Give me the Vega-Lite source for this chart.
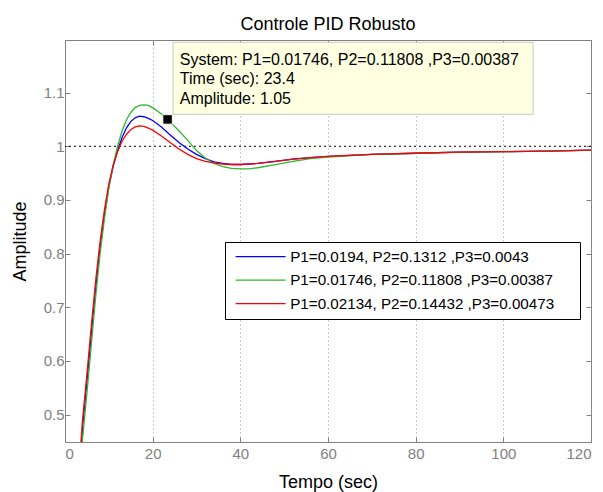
{
  "$schema": "https://vega.github.io/schema/vega-lite/v6.json",
  "width": 526,
  "height": 402,
  "autosize": "none",
  "padding": {"left": 65, "top": 40, "right": 12, "bottom": 50},
  "background": "white",
  "title": {"text": "Controle PID Robusto", "fontSize": 18, "fontWeight": "normal", "font": "Liberation Sans", "color": "black", "offset": -8, "baseline": "alphabetic"},
  "config": {
    "font": "Liberation Sans",
    "view": {"stroke": "#808080", "strokeWidth": 1},
    "axis": {
      "domain": false,
      "grid": true,
      "gridColor": "#999999",
      "gridDash": [1, 3],
      "gridWidth": 1,
      "gridOpacity": 1,
      "tickColor": "#808080",
      "tickSize": -5,
      "labelColor": "#808080",
      "labelFontSize": 15,
      "labelFont": "Liberation Sans",
      "titleFont": "Liberation Sans",
      "titleFontSize": 18,
      "titleFontWeight": "normal",
      "titleColor": "black"
    }
  },
  "datasets": {
    "curves": [
      {"s":"b","t":0,"y":0},{"s":"b","t":1,"y":0.12},{"s":"b","t":2,"y":0.23},{"s":"b","t":3,"y":0.36},{"s":"b","t":4,"y":0.475},{"s":"b","t":5,"y":0.56},{"s":"b","t":6,"y":0.65},{"s":"b","t":7,"y":0.735},{"s":"b","t":8,"y":0.81},{"s":"b","t":9,"y":0.872},{"s":"b","t":10,"y":0.925},{"s":"b","t":11,"y":0.963},{"s":"b","t":12,"y":0.992},{"s":"b","t":13,"y":1.016},{"s":"b","t":14,"y":1.034},{"s":"b","t":15,"y":1.046},{"s":"b","t":16,"y":1.053},{"s":"b","t":17,"y":1.056},{"s":"b","t":18,"y":1.055},{"s":"b","t":19,"y":1.052},{"s":"b","t":20,"y":1.048},{"s":"b","t":22,"y":1.036},{"s":"b","t":24,"y":1.021},{"s":"b","t":26,"y":1.007},{"s":"b","t":28,"y":0.995},{"s":"b","t":30,"y":0.985},{"s":"b","t":32,"y":0.977},{"s":"b","t":34,"y":0.971},{"s":"b","t":36,"y":0.968},{"s":"b","t":38,"y":0.966},{"s":"b","t":40,"y":0.966},{"s":"b","t":44,"y":0.968},{"s":"b","t":48,"y":0.972},{"s":"b","t":52,"y":0.976},{"s":"b","t":56,"y":0.979},{"s":"b","t":60,"y":0.981},{"s":"b","t":70,"y":0.985},{"s":"b","t":80,"y":0.987},{"s":"b","t":90,"y":0.989},{"s":"b","t":100,"y":0.99},{"s":"b","t":110,"y":0.991},{"s":"b","t":120,"y":0.993},
      {"s":"g","t":0,"y":0},{"s":"g","t":1,"y":0.11},{"s":"g","t":2,"y":0.22},{"s":"g","t":3,"y":0.345},{"s":"g","t":4,"y":0.455},{"s":"g","t":5,"y":0.54},{"s":"g","t":6,"y":0.63},{"s":"g","t":7,"y":0.72},{"s":"g","t":8,"y":0.8},{"s":"g","t":9,"y":0.865},{"s":"g","t":10,"y":0.922},{"s":"g","t":11,"y":0.966},{"s":"g","t":12,"y":1.0},{"s":"g","t":13,"y":1.028},{"s":"g","t":14,"y":1.049},{"s":"g","t":15,"y":1.063},{"s":"g","t":16,"y":1.072},{"s":"g","t":17,"y":1.076},{"s":"g","t":18,"y":1.077},{"s":"g","t":19,"y":1.076},{"s":"g","t":20,"y":1.072},{"s":"g","t":21,"y":1.066},{"s":"g","t":22,"y":1.06},{"s":"g","t":23.4,"y":1.05},{"s":"g","t":24,"y":1.045},{"s":"g","t":26,"y":1.029},{"s":"g","t":28,"y":1.011},{"s":"g","t":30,"y":0.992},{"s":"g","t":32,"y":0.978},{"s":"g","t":34,"y":0.968},{"s":"g","t":36,"y":0.962},{"s":"g","t":38,"y":0.959},{"s":"g","t":40,"y":0.958},{"s":"g","t":42,"y":0.958},{"s":"g","t":44,"y":0.96},{"s":"g","t":48,"y":0.966},{"s":"g","t":52,"y":0.972},{"s":"g","t":56,"y":0.977},{"s":"g","t":60,"y":0.98},{"s":"g","t":70,"y":0.985},{"s":"g","t":80,"y":0.987},{"s":"g","t":90,"y":0.989},{"s":"g","t":100,"y":0.99},{"s":"g","t":110,"y":0.991},{"s":"g","t":120,"y":0.993},
      {"s":"r","t":0,"y":0},{"s":"r","t":1,"y":0.13},{"s":"r","t":2,"y":0.245},{"s":"r","t":3,"y":0.375},{"s":"r","t":4,"y":0.49},{"s":"r","t":5,"y":0.575},{"s":"r","t":6,"y":0.665},{"s":"r","t":7,"y":0.75},{"s":"r","t":8,"y":0.822},{"s":"r","t":9,"y":0.882},{"s":"r","t":10,"y":0.93},{"s":"r","t":11,"y":0.965},{"s":"r","t":12,"y":0.99},{"s":"r","t":13,"y":1.009},{"s":"r","t":14,"y":1.022},{"s":"r","t":15,"y":1.031},{"s":"r","t":16,"y":1.036},{"s":"r","t":17,"y":1.038},{"s":"r","t":18,"y":1.037},{"s":"r","t":19,"y":1.034},{"s":"r","t":20,"y":1.03},{"s":"r","t":22,"y":1.019},{"s":"r","t":24,"y":1.007},{"s":"r","t":26,"y":0.995},{"s":"r","t":28,"y":0.985},{"s":"r","t":30,"y":0.977},{"s":"r","t":32,"y":0.972},{"s":"r","t":34,"y":0.969},{"s":"r","t":36,"y":0.967},{"s":"r","t":38,"y":0.966},{"s":"r","t":40,"y":0.966},{"s":"r","t":44,"y":0.968},{"s":"r","t":48,"y":0.972},{"s":"r","t":52,"y":0.976},{"s":"r","t":56,"y":0.979},{"s":"r","t":60,"y":0.981},{"s":"r","t":70,"y":0.985},{"s":"r","t":80,"y":0.987},{"s":"r","t":90,"y":0.989},{"s":"r","t":100,"y":0.99},{"s":"r","t":110,"y":0.991},{"s":"r","t":120,"y":0.993}
    ],
    "tipbox": [{"x1": 24.64, "x2": 106.8, "y1": 1.0596, "y2": 1.1937}],
    "tiptext": [
      {"t": 26.2, "a": 1.1607, "txt": "System: P1=0.01746, P2=0.11808 ,P3=0.00387"},
      {"t": 26.2, "a": 1.1248, "txt": "Time (sec): 23.4"},
      {"t": 26.2, "a": 1.088, "txt": "Amplitude: 1.05"}
    ],
    "marker": [{"t": 23.4, "a": 1.05}],
    "ref": [{"a": 1}]
  },
  "resolve": {"axis": {"x": "independent", "y": "independent"}},
  "layer": [
    {
      "data": {"name": "ref"},
      "mark": {"type": "rule", "color": "black", "strokeDash": [2, 3], "strokeWidth": 1},
      "encoding": {
        "y": {"field": "a", "type": "quantitative", "scale": {"domain": [0.449, 1.198], "nice": false, "zero": false}, "axis": null}
      }
    },
    {
      "data": {"name": "curves"},
      "mark": {"type": "line", "clip": true, "strokeWidth": 1.3},
      "encoding": {
        "x": {"field": "t", "type": "quantitative", "scale": {"domain": [0, 120], "nice": false}, "axis": {"orient": "bottom", "values": [0, 20, 40, 60, 80, 100, 120], "title": "Tempo (sec)", "labelPadding": 9, "titlePadding": 12}},
        "y": {"field": "y", "type": "quantitative", "scale": {"domain": [0.449, 1.198], "nice": false, "zero": false}, "axis": {"orient": "left", "values": [0.5, 0.6, 0.7, 0.8, 0.9, 1, 1.1], "format": "~g", "title": "Amplitude", "labelPadding": 6, "titlePadding": 14}},
        "color": {
          "field": "s", "type": "nominal",
          "scale": {"domain": ["b", "g", "r"], "range": ["#0000ff", "#2eb82e", "#ff0000"]},
          "legend": {
            "orient": "none", "legendX": 160, "legendY": 202,
            "title": "\u00a0", "titleOrient": "right", "titlePadding": 19, "titleFontSize": 16,
            "fillColor": "white", "strokeColor": "black", "padding": 7,
            "symbolType": "M-25,0H25", "symbolSize": 4, "symbolStrokeWidth": 1.3, "symbolOffset": 21,
            "labelFontSize": 15.2, "labelFont": "Liberation Sans", "labelColor": "black",
            "labelOffset": 22, "rowPadding": 7.5, "labelLimit": 500,
            "labelExpr": "{'b': 'P1=0.0194, P2=0.1312 ,P3=0.0043', 'g': 'P1=0.01746, P2=0.11808 ,P3=0.00387', 'r': 'P1=0.02134, P2=0.14432 ,P3=0.00473'}[datum.label]"
          }
        },
        "order": {"field": "t", "type": "quantitative"}
      }
    },
    {
      "data": {"name": "tipbox"},
      "mark": {"type": "rect", "fill": "#ffffe1", "stroke": "#c8c8c8", "strokeWidth": 1},
      "encoding": {
        "x": {"field": "x1", "type": "quantitative", "axis": {"orient": "top", "labels": false, "title": null, "grid": false, "values": [0, 20, 40, 60, 80, 100, 120]}},
        "x2": {"field": "x2"},
        "y": {"field": "y1", "type": "quantitative", "axis": {"orient": "right", "labels": false, "title": null, "grid": false, "values": [0.5, 0.6, 0.7, 0.8, 0.9, 1, 1.1]}},
        "y2": {"field": "y2"}
      }
    },
    {
      "data": {"name": "tiptext"},
      "mark": {"type": "text", "align": "left", "baseline": "middle", "fontSize": 16, "font": "Liberation Sans", "color": "black"},
      "encoding": {
        "x": {"field": "t", "type": "quantitative", "axis": null},
        "y": {"field": "a", "type": "quantitative", "axis": null},
        "text": {"field": "txt"}
      }
    },
    {
      "data": {"name": "marker"},
      "mark": {"type": "square", "filled": true, "fill": "black", "stroke": "#ffffe1", "strokeWidth": 1, "size": 90, "opacity": 1},
      "encoding": {
        "x": {"field": "t", "type": "quantitative", "axis": null},
        "y": {"field": "a", "type": "quantitative", "axis": null}
      }
    }
  ]
}
